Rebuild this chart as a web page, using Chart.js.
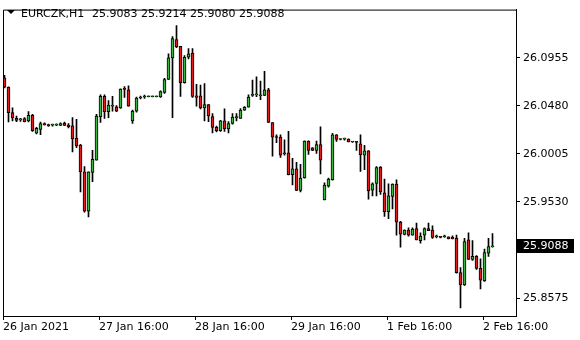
<!DOCTYPE html>
<html>
<head>
<meta charset="utf-8">
<script src="https://cdn.jsdelivr.net/npm/chart.js@4/dist/chart.umd.min.js"></script>
<style>
  html, body { margin: 0; padding: 0; background: #fff; }
  #grafico { display: block; }
</style>
</head>
<body>
<canvas id="grafico" width="580" height="340"></canvas>
<script>
// EURCZK H1, una vela por hora
const simbolo = 'EURCZK,H1';
const ultimaVela = ['25.9083', '25.9214', '25.9080', '25.9088'];

const aperturas = [26.0757, 26.0664, 26.0412, 26.0356, 26.0340, 26.0353, 26.0330, 26.0386, 26.0208, 26.0247,
  26.0305, 26.0295, 26.0289, 26.0289, 26.0286, 26.0308, 26.0289, 26.0282, 26.0160, 26.0092,
  25.9826, 25.9435, 25.9820, 25.9942, 26.0373, 26.0573, 26.0421, 26.0476, 26.0470, 26.0460,
  26.0645, 26.0638, 26.0330, 26.0427, 26.0557, 26.0567, 26.0570, 26.0570, 26.0570, 26.0567,
  26.0612, 26.0741, 26.0955, 26.1136, 26.1068, 26.0709, 26.0961, 26.1003, 26.0580, 26.0580,
  26.0460, 26.0492, 26.0373, 26.0266, 26.0233, 26.0330, 26.0250, 26.0305, 26.0363, 26.0356,
  26.0437, 26.0466, 26.0583, 26.0589, 26.0580, 26.0583, 26.0638, 26.0315, 26.0169, 26.0169,
  26.0007, 26.0014, 25.9797, 25.9855, 25.9642, 25.9765, 26.0130, 26.0063, 26.0039, 26.0095,
  25.9548, 25.9684, 25.9749, 26.0192, 26.0146, 26.0150, 26.0150, 26.0121, 26.0121, 26.0104,
  25.9991, 26.0033, 25.9645, 25.9710, 25.9872, 25.9619, 25.9432, 25.9581, 25.9704, 25.9328,
  25.9205, 25.9248, 25.9199, 25.9264, 25.9144, 25.9199, 25.9264, 25.9248, 25.9183, 25.9180,
  25.9183, 25.9183, 25.9177, 25.9170, 25.8827, 25.8705, 25.9151, 25.8957, 25.8989, 25.8869,
  25.8746, 25.9021, 25.9083];
const maximos = [26.0783, 26.0667, 26.0460, 26.0379, 26.0355, 26.0363, 26.0422, 26.0395, 26.0266, 26.0318,
  26.0311, 26.0298, 26.0298, 26.0301, 26.0311, 26.0318, 26.0305, 26.0363, 26.0347, 26.0098,
  25.9878, 25.9826, 26.0039, 26.0395, 26.0589, 26.0589, 26.0531, 26.0573, 26.0482, 26.0648,
  26.0670, 26.0677, 26.0437, 26.0567, 26.0576, 26.0586, 26.0573, 26.0573, 26.0573, 26.0628,
  26.0751, 26.0994, 26.1165, 26.1275, 26.1068, 26.0977, 26.1048, 26.1048, 26.0693, 26.0686,
  26.0700, 26.0492, 26.0402, 26.0279, 26.0337, 26.0450, 26.0324, 26.0402, 26.0402, 26.0453,
  26.0473, 26.0589, 26.0735, 26.0767, 26.0725, 26.0822, 26.0654, 26.0315, 26.0192, 26.0192,
  26.0143, 26.0227, 25.9959, 25.9920, 25.9901, 26.0133, 26.0133, 26.0066, 26.0130, 26.0272,
  25.9716, 25.9765, 26.0208, 26.0195, 26.0150, 26.0160, 26.0153, 26.0124, 26.0127, 26.0192,
  26.0088, 26.0037, 25.9716, 25.9879, 25.9879, 25.9755, 25.9707, 25.9707, 25.9746, 25.9335,
  25.9251, 25.9270, 25.9270, 25.9319, 25.9222, 25.9270, 25.9319, 25.9290, 25.9199, 25.9186,
  25.9199, 25.9183, 25.9193, 25.9199, 25.8876, 25.9167, 25.9222, 25.9144, 25.8996, 25.8963,
  25.9060, 25.9167, 25.9214];
const minimos = [26.0657, 26.0321, 26.0330, 26.0324, 26.0325, 26.0320, 26.0320, 26.0227, 26.0201, 26.0195,
  26.0289, 26.0275, 26.0279, 26.0282, 26.0282, 26.0282, 26.0260, 26.0024, 26.0066, 25.9626,
  25.9425, 25.9380, 25.9729, 25.9942, 26.0315, 26.0356, 26.0363, 26.0427, 26.0421, 26.0453,
  26.0563, 26.0476, 26.0305, 26.0418, 26.0547, 26.0554, 26.0567, 26.0567, 26.0567, 26.0563,
  26.0602, 26.0741, 26.0363, 26.1055, 26.0573, 26.0703, 26.0945, 26.0563, 26.0476, 26.0450,
  26.0330, 26.0324, 26.0211, 26.0221, 26.0227, 26.0227, 26.0211, 26.0298, 26.0330, 26.0356,
  26.0434, 26.0466, 26.0573, 26.0570, 26.0541, 26.0580, 26.0315, 25.9981, 26.0114, 25.9968,
  25.9991, 25.9794, 25.9697, 25.9639, 25.9626, 25.9762, 25.9999, 26.0036, 26.0007, 25.9804,
  25.9548, 25.9675, 25.9742, 26.0127, 26.0143, 26.0140, 26.0121, 26.0118, 26.0039, 25.9830,
  25.9846, 25.9555, 25.9587, 25.9587, 25.9603, 25.9384, 25.9361, 25.9458, 25.9199, 25.9079,
  25.9202, 25.9189, 25.9199, 25.9151, 25.9118, 25.9151, 25.9244, 25.9167, 25.9170, 25.9170,
  25.9177, 25.9160, 25.9160, 25.8821, 25.8478, 25.8701, 25.8957, 25.8947, 25.8860, 25.8666,
  25.8740, 25.8989, 25.9080];
const cierres = [26.0664, 26.0412, 26.0359, 26.0334, 26.0345, 26.0324, 26.0386, 26.0233, 26.0257, 26.0305,
  26.0292, 26.0282, 26.0289, 26.0292, 26.0305, 26.0286, 26.0273, 26.0153, 26.0082, 25.9826,
  25.9435, 25.9826, 25.9949, 26.0379, 26.0573, 26.0421, 26.0486, 26.0479, 26.0427, 26.0645,
  26.0642, 26.0476, 26.0427, 26.0557, 26.0563, 26.0570, 26.0570, 26.0570, 26.0570, 26.0622,
  26.0741, 26.0955, 26.1145, 26.1064, 26.0709, 26.0961, 26.0994, 26.0573, 26.0563, 26.0460,
  26.0492, 26.0379, 26.0266, 26.0233, 26.0330, 26.0250, 26.0305, 26.0369, 26.0366, 26.0437,
  26.0466, 26.0567, 26.0583, 26.0592, 26.0583, 26.0638, 26.0315, 26.0169, 26.0166, 25.9991,
  26.0004, 25.9797, 25.9855, 25.9642, 25.9765, 26.0130, 26.0039, 26.0039, 26.0095, 25.9942,
  25.9694, 25.9755, 26.0192, 26.0146, 26.0146, 26.0150, 26.0121, 26.0121, 26.0118, 25.9997,
  26.0033, 25.9636, 25.9707, 25.9869, 25.9626, 25.9432, 25.9587, 25.9704, 25.9328, 25.9209,
  25.9248, 25.9199, 25.9258, 25.9151, 25.9189, 25.9264, 25.9244, 25.9177, 25.9183, 25.9177,
  25.9186, 25.9160, 25.9160, 25.8827, 25.8705, 25.9134, 25.8957, 25.8989, 25.8869, 25.8753,
  25.9027, 25.9086, 25.9088];

// marcas del eje de tiempo (cada 24 velas) y del eje de precios
const velasMarca = [0, 24, 48, 72, 96, 120];
const textosMarca = ['26 Jan 2021', '27 Jan 16:00', '28 Jan 16:00', '29 Jan 16:00', '1 Feb 16:00', '2 Feb 16:00'];
const preciosMarca = [25.8575, 25.9053, 25.9530, 26.0005, 26.0480, 26.0955];
const precioActual = 25.9088;

const VERDE = '#3fb43f', ROJO = '#e31a1a', NEGRO = '#000000';
const fuente = { family: 'DejaVu Sans', size: 11 };

let indices = aperturas.map((_, i) => i);
let cuerpos = indices.map(i => ({ x: i, y: [aperturas[i], cierres[i]] }));
let mechas = indices.map(i => ({ x: i, y: [minimos[i], maximos[i]] }));
let coloresCuerpo = indices.map(i => cierres[i] >= aperturas[i] ? VERDE : ROJO);

// marco superior/izquierdo, cabecera y etiqueta del precio actual
const extrasMT4 = {
  id: 'extrasMT4',
  afterDraw(chart) {
    let ctx = chart.ctx; let a = chart.chartArea;
    ctx.save();
    ctx.strokeStyle = NEGRO; ctx.lineWidth = 1;
    ctx.beginPath();
    ctx.moveTo(a.left + 0.5, a.bottom); ctx.lineTo(a.left + 0.5, a.top + 0.5); ctx.lineTo(a.right, a.top + 0.5);
    ctx.stroke();

    ctx.fillStyle = NEGRO;
    ctx.beginPath(); ctx.moveTo(7, 10); ctx.lineTo(15, 10); ctx.lineTo(11, 14); ctx.closePath(); ctx.fill();
    ctx.font = '11px "DejaVu Sans"'; ctx.textBaseline = 'alphabetic'; ctx.textAlign = 'left';
    ctx.fillText(simbolo, 21, 17);
    ctx.fillText(ultimaVela.join(' '), 92, 17);

    let y = Math.round(chart.scales.y.getPixelForValue(precioActual));
    ctx.fillRect(517, y - 7, 57, 14);
    ctx.fillStyle = '#ffffff'; ctx.textBaseline = 'middle';
    ctx.fillText(precioActual.toFixed(4), 523, y + 0.5);
    ctx.restore();
  }
};

new Chart(document.getElementById('grafico'), {
  type: 'bar',
  data: {
    datasets: [
      { data: cuerpos, backgroundColor: coloresCuerpo, borderColor: NEGRO, borderWidth: 1, borderSkipped: false, barThickness: 3, minBarLength: 1 },
      { data: mechas, backgroundColor: NEGRO, borderWidth: 0, barThickness: 1, minBarLength: 1 }
    ]
  },
  options: {
    responsive: false, animation: false, devicePixelRatio: 1,
    layout: { padding: { left: 3, top: 3, right: 0, bottom: 0 } },
    datasets: { bar: { grouped: false } },
    plugins: { legend: { display: false }, tooltip: { enabled: false } },
    scales: {
      x: {
        type: 'linear', position: 'bottom', min: -0.375, max: 127.875, offset: false,
        afterBuildTicks: s => { s.ticks = velasMarca.map(v => ({ value: v - 0.375 })); },
        afterFit: s => { s.height = 24; },
        ticks: { callback: (v, i) => textosMarca[i], font: fuente, color: NEGRO, align: 'start', maxRotation: 0, autoSkip: false, padding: 1 },
        grid: { offset: false, drawOnChartArea: false, drawTicks: true, tickLength: 4, color: NEGRO },
        border: { display: true, color: NEGRO, width: 1 }
      },
      y: {
        type: 'linear', position: 'right', min: 25.83975, max: 26.14331,
        afterBuildTicks: s => { s.ticks = preciosMarca.map(v => ({ value: v })); },
        afterFit: s => { s.width = 64; },
        ticks: { callback: v => v.toFixed(4), font: fuente, color: NEGRO, padding: 3 },
        grid: { drawOnChartArea: false, drawTicks: true, tickLength: 4, color: NEGRO },
        border: { display: true, color: NEGRO, width: 1 }
      }
    }
  },
  plugins: [extrasMT4]
});
</script>
</body>
</html>
